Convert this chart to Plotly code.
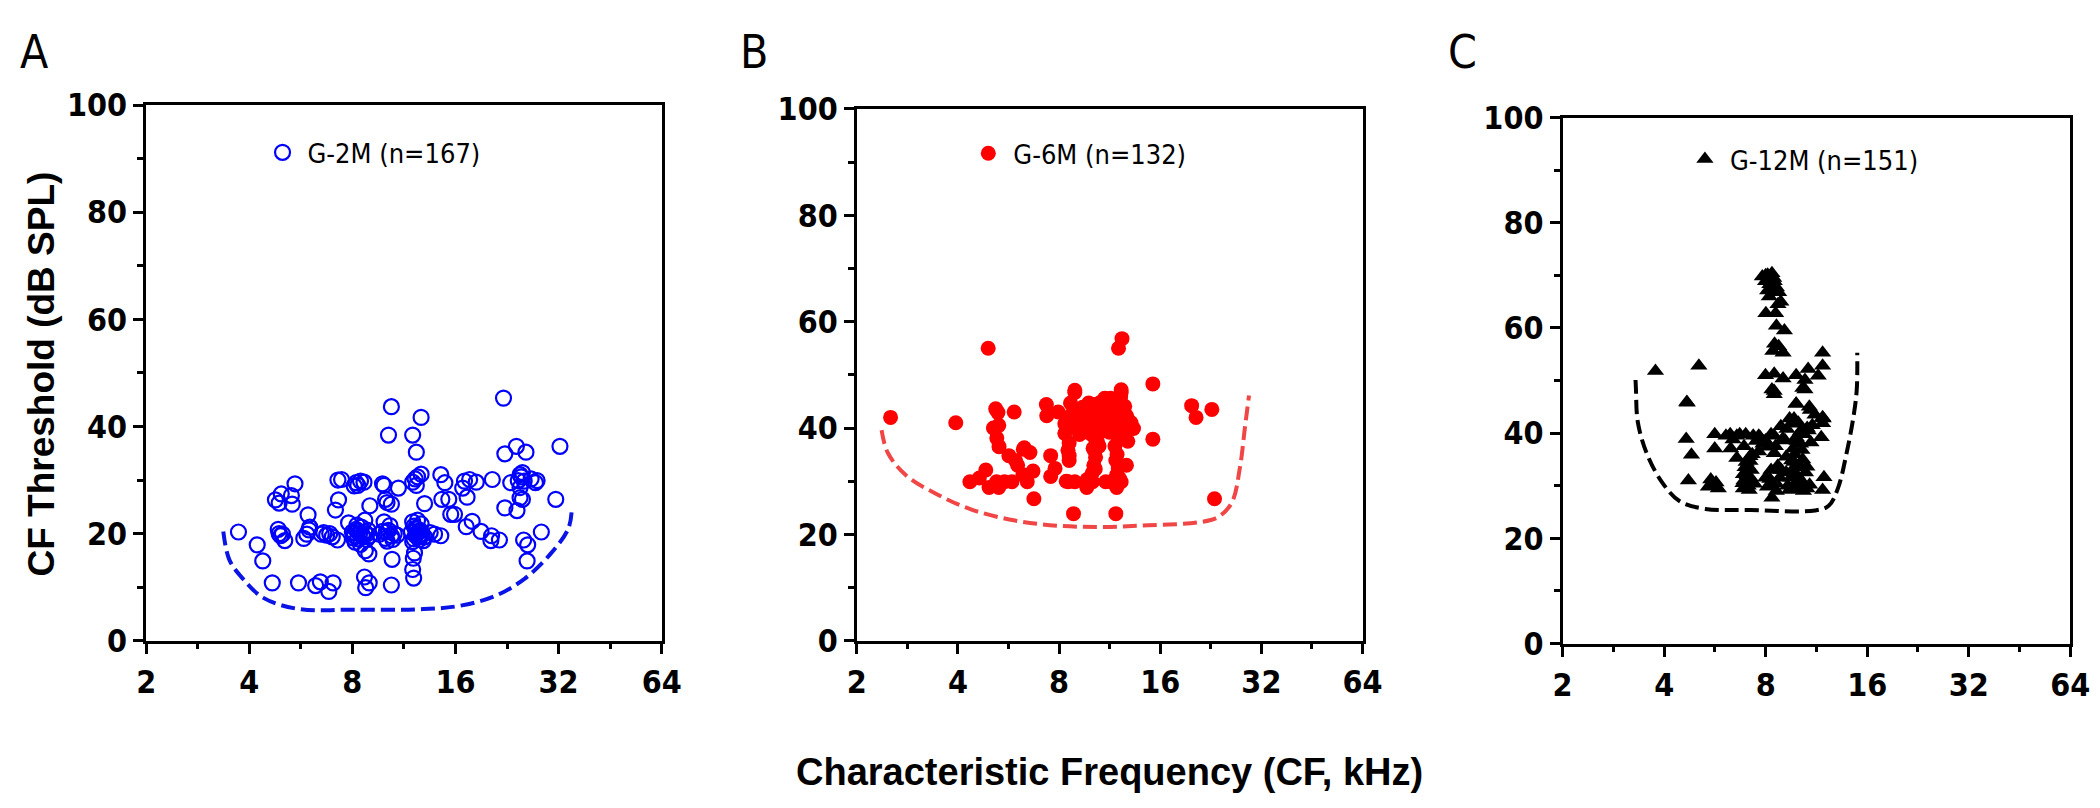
import math
import plotly.graph_objects as go

# ---------------- data ----------------
# Panel A: G-2M (open blue circles)
a_cf = [22.1, 10.4, 12.7, 10.2, 12.0, 12.3, 32.3, 24.1, 22.3, 25.7, 31.4, 12.7, 12.0, 12.2, 12.3,
        14.5, 14.9, 16.8, 17.6, 18.4, 20.5, 17.3, 23.2, 24.7, 25.1, 24.4, 26.6, 27.4, 27.7, 24.7,
        25.1, 24.7, 22.3, 24.2, 17.2, 17.9, 19.0, 20.4, 20.3, 21.5, 25.3, 26.0, 25.9, 28.5, 14.6,
        15.3, 15.5, 15.9, 13.0, 10.9, 9.8, 10.0, 10.1, 10.4, 9.0, 8.65, 8.2, 8.1, 8.3, 7.26,
        7.44, 7.29, 7.14, 5.44, 5.31, 5.34, 4.96, 4.77, 4.89, 5.94, 7.8, 8.7, 3.72, 4.22, 4.38,
        4.67, 5.57, 4.86, 4.89, 4.94, 5.08, 5.77, 5.89, 5.98, 6.01, 6.49, 6.73, 6.87, 6.99, 7.24,
        6.25, 6.45, 6.83, 7.03, 8.0, 8.1, 8.2, 8.3, 8.4, 8.5, 8.6, 8.7, 8.8, 8.9, 8.15,
        8.45, 8.25, 9.0, 8.05, 8.73, 8.94, 8.68, 8.75, 8.96, 10.4, 10.45, 9.6, 9.8, 10.0, 10.2,
        10.4, 10.6, 10.1, 9.9, 10.3, 10.8, 11.9, 12.0, 12.1, 12.2, 12.3, 12.4, 12.5, 12.6, 12.7,
        12.8, 12.9, 12.0, 12.35, 12.55, 12.15, 12.05, 12.0, 12.08, 13.5, 13.9, 14.5, 13.0, 8.3,
        8.55, 8.1, 8.8, 12.25, 12.45, 12.65, 12.1, 10.05, 10.5, 5.0, 6.6, 24.9, 25.4, 12.4,
        9.9, 8.45, 17.0]
a_thr = [45.3, 43.7, 41.7, 38.4, 38.4, 35.2, 36.3, 36.3, 34.9, 35.2, 26.4, 31.1, 29.6, 30.2, 29.0,
         31.0, 29.5, 28.5, 30.1, 29.6, 30.1, 26.8, 29.5, 31.0, 31.4, 29.9, 30.2, 29.5, 29.9, 28.6,
         26.4, 26.7, 24.8, 24.3, 21.3, 22.3, 20.4, 19.6, 18.7, 18.8, 18.8, 17.9, 14.9, 20.3, 26.4,
         26.4, 23.6, 23.6, 25.6, 28.5, 29.3, 26.4, 25.8, 25.5, 25.2, 29.6, 29.5, 28.9, 29.0, 30.0,
         30.1, 26.3, 24.4, 29.3, 27.1, 25.5, 27.4, 26.3, 25.7, 23.5, 22.0, 22.5, 20.3, 17.9, 14.9,
         10.8, 10.8, 20.8, 20.0, 19.6, 18.7, 19.1, 19.9, 20.7, 21.2, 19.9, 19.7, 20.0, 19.4, 18.8,
         10.3, 11.0, 9.2, 10.8, 20.3, 19.6, 20.8, 19.0, 20.0, 21.2, 19.4, 20.3, 19.9, 20.6, 18.4,
         18.0, 21.6, 19.6, 19.2, 16.8, 16.2, 11.9, 9.9, 10.8, 10.4, 15.2, 19.9, 20.4, 19.1, 20.6,
         19.6, 20.0, 18.6, 22.2, 21.5, 19.7, 20.3, 22.2, 19.0, 21.0, 20.0, 22.5, 19.4, 20.6, 21.8,
         19.8, 18.7, 18.5, 20.9, 18.9, 16.4, 15.4, 13.3, 11.7, 20.2, 19.9, 19.6, 19.4, 20.5,
         19.7, 20.1, 18.9, 19.6, 20.3, 19.9, 21.4, 20.3, 18.9, 19.9, 20.2, 30.6, 29.8, 30.6,
         29.0, 29.8, 29.8]

# Panel B: G-6M (filled red circles)
b_cf = [4.92, 12.31, 12.02, 8.91, 15.21, 12.24, 10.94, 2.52, 3.94, 5.18, 5.26, 5.88, 5.10, 5.29, 5.22,
        5.30, 5.67, 5.93, 6.02, 6.26, 6.55, 6.69, 6.73, 6.24, 6.43, 5.79, 4.84, 4.63, 4.34, 4.95,
        5.21, 5.29, 7.33, 7.35, 7.95, 7.55, 7.78, 7.55, 8.83, 11.80, 8.52, 8.91, 8.57, 8.57, 8.57,
        8.32, 8.32, 8.65, 8.91, 8.78, 8.91, 9.33, 9.61, 9.90, 10.15, 10.37, 10.21, 10.27, 10.15, 10.03,
        10.06, 9.67, 10.94, 11.18, 10.91, 10.62, 11.52, 11.87, 12.09, 12.24, 12.54, 12.69, 12.39, 13.32, 12.81,
        12.69, 11.73, 11.80, 11.45, 12.24, 11.87, 11.87, 11.01, 15.21, 19.84, 20.45, 22.79, 23.21, 10.52, 10.37,
        10.78, 11.38, 9.61, 9.18, 8.6, 9.0, 9.4, 9.8, 10.0, 10.4, 10.7, 11.0, 11.3, 11.6, 11.9,
        12.1, 12.4, 12.6, 12.9, 11.1, 11.7, 12.2, 9.5, 10.2, 10.4, 10.25, 10.1, 11.9, 12.0, 12.1,
        8.5, 8.4, 9.7, 8.7, 9.2, 9.9, 10.6, 11.4, 12.8, 13.1, 6.3, 5.5]
b_thr = [55.0, 56.8, 55.0, 47.1, 48.3, 47.2, 45.5, 42.0, 41.0, 43.6, 42.9, 43.0, 40.0, 40.5, 38.1,
         36.5, 34.8, 33.9, 33.0, 36.0, 35.4, 31.9, 26.7, 31.2, 29.9, 29.9, 32.1, 30.6, 29.9, 28.8,
         29.9, 28.8, 44.4, 42.3, 43.0, 34.8, 32.4, 30.9, 23.9, 23.9, 29.9, 29.9, 34.8, 33.9, 37.2,
         39.0, 40.8, 44.7, 43.5, 40.8, 46.7, 40.2, 42.9, 39.0, 44.4, 39.0, 35.7, 34.5, 33.0, 31.5,
         29.9, 28.8, 45.6, 42.6, 41.4, 40.2, 41.4, 42.9, 44.7, 46.7, 44.1, 42.3, 40.2, 39.9, 37.5,
         33.0, 36.6, 33.9, 29.9, 29.9, 28.8, 31.2, 29.9, 37.9, 44.2, 42.0, 43.5, 26.7, 36.6, 40.2,
         43.9, 45.6, 41.4, 41.4, 41.9, 40.0, 43.9, 44.7, 41.0, 42.2, 39.4, 40.5, 39.2, 40.0, 38.6,
         41.2, 43.0, 39.5, 40.6, 43.5, 45.0, 45.9, 39.3, 38.2, 37.4, 32.3, 36.2, 35.0, 32.5, 30.5,
         35.8, 30.0, 30.3, 42.5, 38.8, 40.9, 44.8, 43.2, 41.7, 41.0, 36.3, 29.9]

# Panel C: G-12M (filled black triangles)
c_cf = [3.77, 5.07, 4.68, 7.82, 8.11, 8.35, 7.99, 8.23, 8.48, 8.61, 8.11, 8.74, 8.87, 8.01, 8.56,
        8.61, 9.09, 8.40, 8.74, 9.01, 11.80, 11.80, 10.69, 9.85, 11.45, 7.99, 8.48, 9.01, 10.46, 8.35,
        8.48, 10.31, 9.85, 10.78, 4.67, 4.65, 4.82, 4.72, 5.65, 5.65, 5.41, 5.57, 5.79, 6.28, 6.30,
        6.57, 6.57, 6.98, 7.19, 7.19, 6.87, 6.98, 6.87, 7.19, 7.41, 7.63, 7.63, 7.99, 8.11, 8.48,
        8.48, 8.69, 8.23, 8.35, 8.61, 8.87, 9.14, 9.42, 9.71, 9.85, 9.65, 9.85, 10.15, 10.62, 10.85,
        11.80, 11.80, 11.69, 11.91, 11.80, 8.48, 10.46, 9.3, 9.5, 9.6, 9.7, 9.8, 9.9, 10.0, 10.1,
        10.2, 10.3, 10.4, 10.5, 9.4, 9.75, 10.05, 10.35, 9.55, 9.95, 10.6, 9.2, 10.25, 10.15, 6.95,
        7.05, 7.1, 6.9, 7.0, 7.15, 7.25, 6.85, 8.0, 8.1, 8.4, 8.6, 8.8, 8.3, 6.1, 6.4,
        6.7, 7.35, 7.5, 7.7, 7.85, 8.3, 8.55, 9.0, 9.25, 9.55, 9.9, 10.0, 10.4, 10.7, 10.9,
        11.0, 11.2, 5.7, 5.5, 6.9, 7.3, 8.9, 9.2, 10.6, 10.8, 11.85, 8.2, 8.45, 8.0, 8.7, 8.5]
c_thr = [51.8, 52.8, 45.8, 69.8, 70.1, 70.4, 68.9, 68.3, 68.9, 67.7, 67.1, 66.8, 65.0, 62.8, 62.8,
         60.4, 59.5, 55.6, 56.5, 55.3, 55.3, 52.8, 52.2, 51.0, 50.9, 51.0, 51.3, 50.4, 50.1, 48.3,
         47.4, 48.6, 45.6, 45.0, 45.9, 38.9, 35.9, 31.0, 39.8, 37.1, 29.8, 30.1, 29.5, 39.8, 37.1,
         39.5, 35.3, 39.8, 35.6, 34.7, 32.2, 30.7, 29.5, 31.6, 30.4, 36.5, 39.5, 38.6, 37.4, 39.5,
         36.2, 33.8, 31.3, 27.7, 30.4, 41.3, 38.6, 42.8, 42.8, 45.6, 37.1, 39.2, 40.4, 41.0, 44.4,
         43.0, 41.9, 39.2, 31.6, 29.2, 48.0, 48.3, 30.0, 31.5, 33.0, 34.5, 30.5, 32.0, 29.5, 33.5,
         31.0, 35.0, 30.2, 32.5, 29.2, 36.0, 34.0, 29.0, 34.8, 30.8, 33.6, 32.5, 36.8, 38.0, 33.5,
         32.0, 30.0, 31.0, 34.5, 29.2, 33.0, 30.5, 31.5, 29.8, 30.5, 29.0, 31.5, 33.0, 39.5, 38.8,
         39.8, 39.5, 38.5, 39.2, 38.0, 39.8, 37.5, 39.0, 40.8, 41.8, 38.5, 42.0, 39.8, 40.5, 38.2,
         41.5, 43.5, 30.6, 31.2, 37.5, 36.0, 33.0, 35.5, 29.5, 30.2, 42.8, 66.0, 69.5, 70.0, 64.5, 57.0]

# Dashed threshold boundary curves
a_curve_cf = [3.36, 3.5, 3.83, 4.4, 5.6, 8.0, 12.9, 16.4, 20.8, 25.5, 30.4, 34.2, 35.0]
a_curve_thr = [20.4, 15.1, 11.6, 8.0, 5.9, 5.8, 5.9, 6.5, 8.3, 11.6, 16.3, 21.0, 24.9]
b_curve_cf = [2.37, 2.47, 2.79, 3.45, 4.37, 5.91, 8.0, 10.8, 14.7, 21.0, 23.7, 26.1, 27.6, 28.6, 29.4]
b_curve_thr = [39.6, 35.4, 31.2, 27.6, 24.7, 22.6, 21.6, 21.4, 21.7, 22.3, 23.2, 25.9, 32.4, 40.2, 46.1]
c_curve_cf = [3.29, 3.30, 3.34, 3.55, 3.94, 4.44, 5.3, 7.2, 11.2, 12.3, 13.1, 13.9, 14.6, 14.9, 14.95]
c_curve_thr = [50.1, 48.3, 42.2, 36.2, 30.7, 27.1, 25.6, 25.4, 25.3, 26.2, 29.5, 36.2, 43.5, 48.3, 55.3]

x_ticks = [2, 4, 8, 16, 32, 64]
x_minor = [2 * math.sqrt(2) * 2 ** k for k in range(5)]
y_ticks = [0, 20, 40, 60, 80, 100]
y_minor = [10, 30, 50, 70, 90]

series_names = ["G-2M (n=167)", "G-6M (n=132)", "G-12M (n=151)"]
panel_letters = ["A", "B", "C"]
x_title = "Characteristic Frequency (CF, kHz)"
y_title = "CF Threshold (dB SPL)"

# ---------------- figure ----------------
W, H = 2100, 808
NARROW = "DejaVu Sans Condensed, Liberation Sans Narrow, Liberation Sans, Arial, sans-serif"
TICKFONT = dict(family=NARROW, size=32, color="black", weight="bold")
LEGFONT = dict(family=NARROW, size=27, color="black")

# panel boxes in pixels (left, right, top, bottom)
boxes = [(130, 653, 82, 644), (851, 1364, 86, 644), (1567, 2082, 95, 647)]

fig = go.Figure()

def px_x(p):
    return p / W

def px_y(p):
    return 1 - p / H

for i, (l, r, t, b) in enumerate(boxes):
    sfx = "" if i == 0 else str(i + 1)
    fig.layout["xaxis" + sfx] = dict(
        domain=[px_x(l), px_x(r)], anchor="y" + sfx, type="log",
        range=[math.log10(2), math.log10(64)],
        tickmode="array", tickvals=x_ticks, ticktext=[str(v) for v in x_ticks],
        ticks="outside", ticklen=11, tickwidth=2.5, tickcolor="black",
        showline=True, linewidth=2.5, linecolor="black", mirror=True,
        showgrid=False, zeroline=False, tickfont=TICKFONT,
        minor=dict(tickmode="array", tickvals=x_minor, ticks="outside", ticklen=6,
                   tickwidth=2.5, tickcolor="black", showgrid=False),
    )
    fig.layout["yaxis" + sfx] = dict(
        domain=[px_y(b), px_y(t)], anchor="x" + sfx, range=[0, 100],
        tickmode="array", tickvals=y_ticks, ticktext=[str(v) for v in y_ticks],
        ticks="outside", ticklen=10, tickwidth=2.5, tickcolor="black",
        showline=True, linewidth=2.5, linecolor="black", mirror=True,
        showgrid=False, zeroline=False, tickfont=TICKFONT,
        minor=dict(tickmode="array", tickvals=y_minor, ticks="outside", ticklen=6,
                   tickwidth=2.5, tickcolor="black", showgrid=False),
    )

# dashed curves
curves = [(a_curve_cf, a_curve_thr, "#0A14E6"), (b_curve_cf, b_curve_thr, "#F04646"),
          (c_curve_cf, c_curve_thr, "black")]
for i, (cx, cy, col) in enumerate(curves):
    sfx = "" if i == 0 else str(i + 1)
    fig.add_trace(go.Scatter(
        x=cx, y=cy, mode="lines", xaxis="x" + sfx, yaxis="y" + sfx,
        line=dict(color=col, width=4, dash="14px,6px", shape="spline", smoothing=1.0),
        showlegend=False, hoverinfo="skip"))

# scatter series
fig.add_trace(go.Scatter(
    x=a_cf, y=a_thr, mode="markers", name=series_names[0], xaxis="x", yaxis="y",
    marker=dict(symbol="circle-open", size=15, color="#0000FF", line=dict(width=2.2, color="#0000FF")),
    legend="legend"))
fig.add_trace(go.Scatter(
    x=b_cf, y=b_thr, mode="markers", name=series_names[1], xaxis="x2", yaxis="y2",
    marker=dict(symbol="circle", size=15, color="#FF0000", line=dict(width=0)),
    legend="legend2"))
fig.add_trace(go.Scatter(
    x=c_cf, y=c_thr, mode="markers", name=series_names[2], xaxis="x3", yaxis="y3",
    marker=dict(symbol="triangle-up", size=15, color="black", line=dict(width=0)),
    legend="legend3"))

leg_pos = [(265, 132), (981, 133), (1708, 139)]
legs = {}
for i, (mx, my) in enumerate(leg_pos):
    key = "legend" if i == 0 else "legend" + str(i + 1)
    legs[key] = dict(x=px_x(mx - 22), y=px_y(my), xanchor="left", yanchor="middle",
                     bgcolor="rgba(0,0,0,0)", borderwidth=0, font=LEGFONT,
                     itemwidth=40, itemclick=False, itemdoubleclick=False)

annotations = []
letter_pos = [0, 730, 1449]
for lx, letter in zip(letter_pos, panel_letters):
    annotations.append(dict(x=px_x(lx), y=px_y(-4), xref="paper", yref="paper",
                            xanchor="left", yanchor="top", showarrow=False, text=letter,
                            font=dict(family="DejaVu Sans Condensed, Lato, Liberation Sans, sans-serif",
                                      size=46, color="black")))
annotations.append(dict(x=px_x(1107), y=px_y(782), xref="paper", yref="paper",
                        xanchor="center", yanchor="middle", showarrow=False, text=x_title,
                        font=dict(family="Liberation Sans, Arial, sans-serif", size=38,
                                  color="black", weight="bold")))
annotations.append(dict(x=px_x(24), y=px_y(364), xref="paper", yref="paper",
                        xanchor="center", yanchor="middle", showarrow=False, text=y_title,
                        textangle=-90,
                        font=dict(family="Liberation Sans, Arial, sans-serif", size=37,
                                  color="black", weight="bold")))

fig.update_layout(width=W, height=H, margin=dict(l=0, r=0, t=0, b=0),
                  paper_bgcolor="white", plot_bgcolor="white", showlegend=True,
                  annotations=annotations, **legs)

fig.write_html("out.html")
